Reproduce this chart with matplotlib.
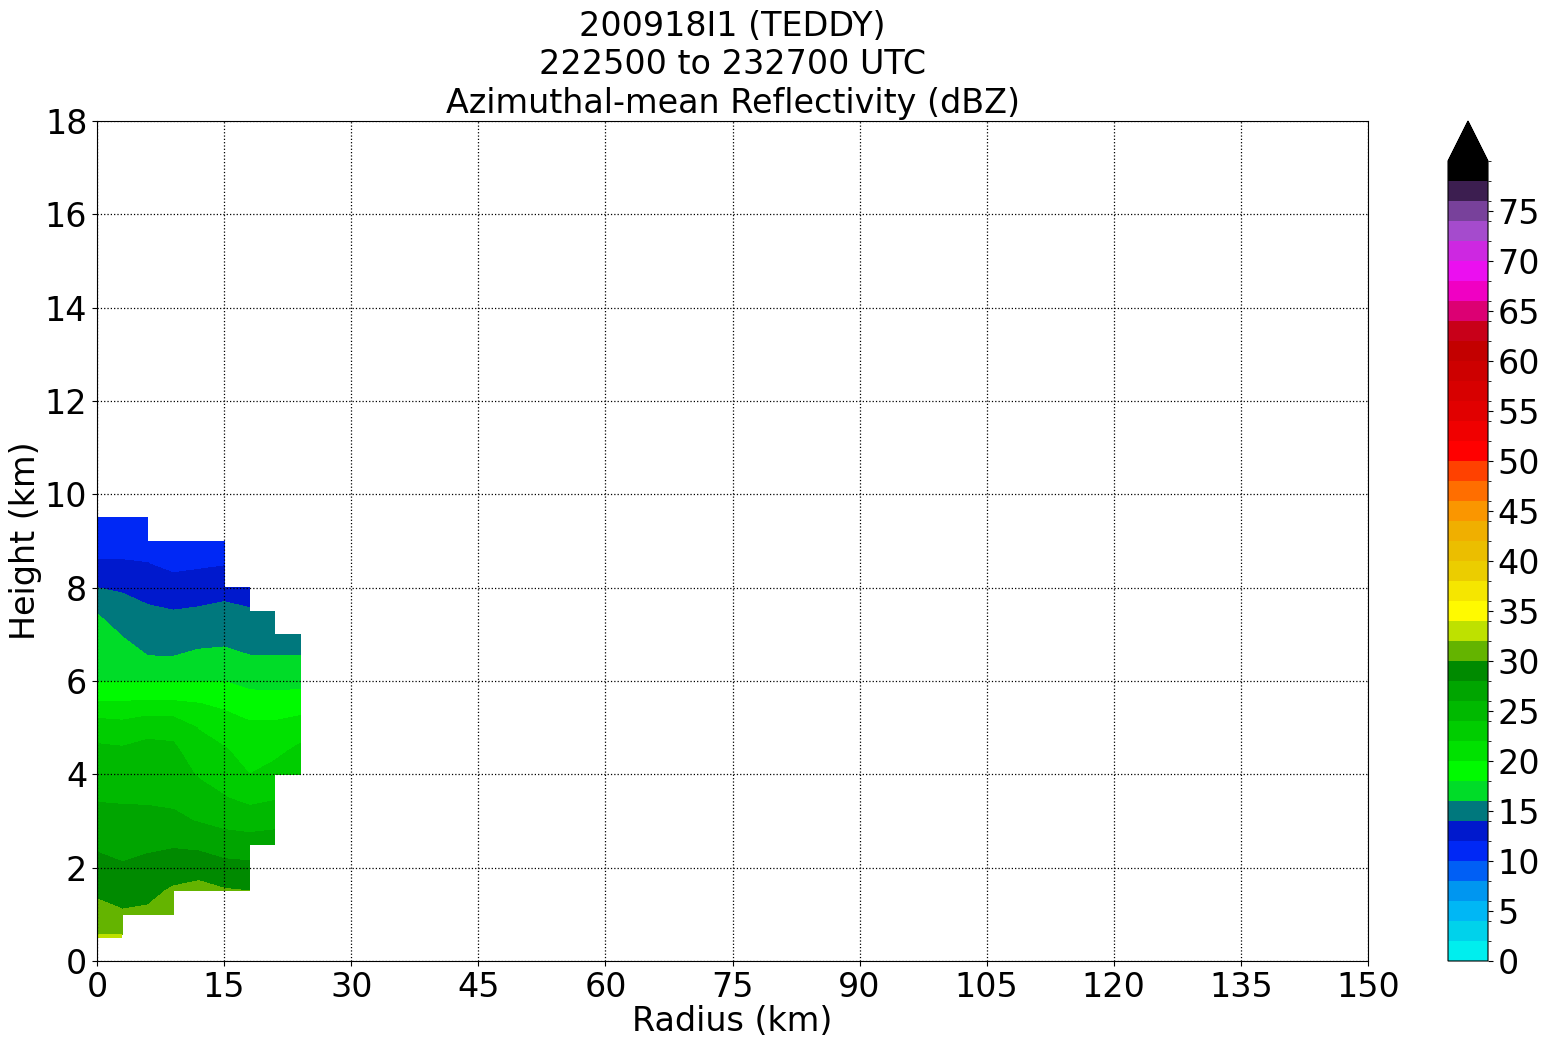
import numpy as np
import matplotlib
matplotlib.use("Agg")
import matplotlib.pyplot as plt
from matplotlib.colors import ListedColormap, BoundaryNorm

# ---------------- data ----------------
radius_km = [0, 3, 6, 9, 12, 15, 18, 21, 24]
base_km = [0.5, 0.5, 1.0, 1.0, 1.5, 1.5, 1.5, 2.5, 4.0]   # lowest valid height per radius

dbz_r00 = [32.2, 30.8, 29.6, 28.6, 27.7, 26.4, 25.9, 25.0, 24.42, 23.1, 20.33, 18.0, 17.3, 16.9, 15.9, 14.0, 12.2, 11.2, 10.5]
dbz_r03 = [32.3, 30.2, 29.3, 28.2, 27.4, 26.5, 25.8, 25.0, 24.3, 22.8, 20.3, 18.0, 16.8, 15.9, 15.0, 13.7, 12.2, 11.2, 10.6]
dbz_r06 = [30.4, 29.4, 28.6, 27.6, 26.8, 25.6, 25.0, 24.4, 23.6, 20.4, 18.0, 16.05, 15.4, 14.3, 13.2, 12.05, 11.3, 10.8]
dbz_r09 = [31.3, 30.3, 28.9, 27.8, 26.4, 25.6, 25.0, 24.4, 23.4, 20.4, 17.9, 16.05, 15.2, 14.05, 12.7, 11.6, 11.0]
dbz_r12 = [30.8, 29.0, 27.6, 25.9, 24.9, 23.8, 22.9, 21.9, 20.1, 18.0, 16.4, 15.3, 14.2, 13.1, 11.7, 11.0]
dbz_r15 = [30.2, 28.5, 27.2, 25.3, 24.1, 23.2, 22.2, 21.2, 19.6, 18.0, 16.6, 15.3, 14.4, 13.4, 11.9, 11.1]
dbz_r18 = [30.0, 28.5, 26.8, 25.2, 23.4, 22.0, 21.3, 20.4, 19.0, 17.4, 16.1, 15.2, 14.1, 13.4]
dbz_r21 = [27.0, 25.4, 23.8, 22.6, 21.6, 20.5, 18.8, 17.4, 16.1, 15.0, 14.5]
dbz_r24 = [23.0, 22.4, 21.2, 18.9, 17.5, 16.1, 15.0]
profiles = [dbz_r00, dbz_r03, dbz_r06, dbz_r09, dbz_r12, dbz_r15, dbz_r18, dbz_r21, dbz_r24]

x_ticks = [0, 15, 30, 45, 60, 75, 90, 105, 120, 135, 150]
y_ticks = [0, 2, 4, 6, 8, 10, 12, 14, 16, 18]
cbar_ticks = list(range(0, 80, 5))
levels = list(range(0, 82, 2))

colors = [
    "#00EEEE", "#00D2EB", "#00B7F5", "#0096F0", "#005FF5", "#0028F5", "#0019CD", "#00787D",
    "#00DC28", "#00FA00", "#00E100", "#00CD00", "#00B900", "#00A500", "#008A00", "#64B400",
    "#BEE100", "#FFFA00", "#F5E600", "#EBCD00", "#EBBE00", "#F0AF00", "#FA9600", "#FF6E00",
    "#FF4100", "#FF0000", "#F00000", "#E10000", "#D70000", "#CD0000", "#C30000", "#C80019",
    "#DC0073", "#F000C3", "#EB0FF0", "#CD28E1", "#A54BCD", "#78419B", "#3C1E50", "#000000",
]

# ---------------- grid ----------------
x = np.arange(0, 151, 3.0)
z = np.arange(0, 18.01, 0.5)
Z = np.full((len(z), len(x)), np.nan)
for r, b, prof in zip(radius_km, base_km, profiles):
    ix = int(round(r / 3))
    iz0 = int(round(b / 0.5))
    Z[iz0:iz0 + len(prof), ix] = prof
Zm = np.ma.masked_invalid(Z)

cmap = ListedColormap(colors)
cmap.set_over("#000000")
norm = BoundaryNorm(levels, cmap.N)

# ---------------- figure ----------------
W, H = 1548, 1045
fig = plt.figure(figsize=(W / 100, H / 100), dpi=100)
ax = fig.add_axes([97 / W, (H - 961) / H, (1368 - 97) / W, 840 / H])
cax = fig.add_axes([1448 / W, (H - 961) / H, 40 / W, 840 / H])

cf = ax.contourf(x, z, Zm, levels=levels, cmap=cmap, norm=norm, extend="max",
                 corner_mask=False)
ax.set_xlim(0, 150)
ax.set_ylim(0, 18)
ax.set_xticks(x_ticks)
ax.set_yticks(y_ticks)
ax.tick_params(labelsize=24)
ax.grid(True, linestyle=":", color="k", linewidth=0.9)
ax.set_xlabel("Radius (km)", fontsize=24, labelpad=1)
ax.set_ylabel("Height (km)", fontsize=24, labelpad=2)
ax.set_title("200918I1 (TEDDY)\n222500 to 232700 UTC\nAzimuthal-mean Reflectivity (dBZ)",
             fontsize=24)

cb = fig.colorbar(cf, cax=cax, ticks=cbar_ticks, extend="max")
cb.ax.tick_params(labelsize=24)

fig.savefig("out.png", dpi=100)
